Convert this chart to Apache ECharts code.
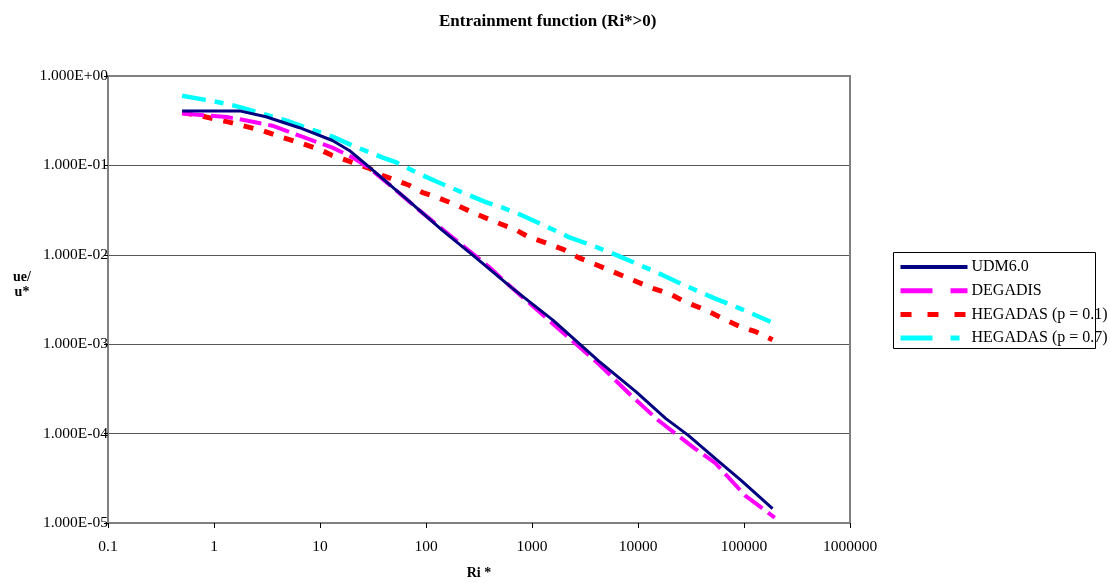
<!DOCTYPE html>
<html>
<head>
<meta charset="utf-8">
<script src="https://cdn.jsdelivr.net/npm/echarts@6/dist/echarts.min.js"></script>
<style>html,body{margin:0;padding:0;background:#fff;}#c{width:1110px;height:583px;}</style>
</head>
<body>
<div id="c"></div>
<script>
// ---- data ----
const seriesNames = ['UDM6.0', 'DEGADIS', 'HEGADAS (p = 0.1)', 'HEGADAS (p = 0.7)'];

const udmX = [0.5, 1.74, 3.09, 6.4, 13.1, 18.9, 29.2, 52.5, 64.6, 141, 295, 646, 1585, 4266, 9550, 18200, 29850, 53700, 93300, 186000];
const udmY = [0.407, 0.407, 0.35, 0.264, 0.19, 0.147, 0.0955, 0.0525, 0.0427, 0.019, 0.0093, 0.00427, 0.00185, 0.000646, 0.000295, 0.000148, 0.0000955, 0.0000525, 0.0000302, 0.0000145];

const degX = [0.5, 1.32, 1.86, 3.55, 6.4, 13.1, 20.2, 29.2, 47.9, 86, 176, 389, 646, 4266, 8710, 15500, 34700, 53700, 102000, 195000];
const degY = [0.38, 0.347, 0.324, 0.278, 0.215, 0.158, 0.123, 0.093, 0.0575, 0.0316, 0.0158, 0.0074, 0.00427, 0.0006, 0.000263, 0.000141, 0.0000676, 0.0000468, 0.0000204, 0.0000115];

const heg1X = [0.5, 0.735, 1.32, 2.03, 2.88, 4.15, 6.4, 9.86, 13.1, 20.2, 29.2, 38.6, 69.3, 91.8, 133, 205, 283, 409, 508, 705, 933, 1350, 2000, 2750, 3980, 5250, 13400, 20200, 28200, 40000, 51300, 67600, 91200, 129000, 186000];
const heg1Y = [0.389, 0.36, 0.309, 0.271, 0.245, 0.21, 0.18, 0.151, 0.129, 0.108, 0.0927, 0.0776, 0.06, 0.05, 0.043, 0.035, 0.0293, 0.0245, 0.0221, 0.019, 0.0158, 0.0136, 0.0114, 0.0093, 0.0078, 0.0068, 0.00427, 0.00363, 0.00295, 0.00251, 0.00219, 0.00186, 0.00158, 0.00138, 0.00112];

const heg7X = [0.5, 0.735, 1.32, 1.86, 2.69, 4.83, 7.41, 13.1, 20.2, 38.6, 52.5, 80.7, 124, 219, 367, 520, 752, 1160, 2220, 3980, 5620, 14600, 24000, 37200, 53700, 75900, 110000, 178000];
const heg7Y = [0.6, 0.555, 0.489, 0.44, 0.388, 0.316, 0.264, 0.21, 0.167, 0.123, 0.108, 0.0836, 0.0664, 0.05, 0.0389, 0.0339, 0.0286, 0.0227, 0.0158, 0.0123, 0.0105, 0.00646, 0.0049, 0.0039, 0.00324, 0.00275, 0.00229, 0.00178];

const xTickLabels = ['0.1', '1', '10', '100', '1000', '10000', '100000', '1000000'];
const yTickLabels = ['1.000E-05', '1.000E-04', '1.000E-03', '1.000E-02', '1.000E-01', '1.000E+00'];

// ---- chart ----
const FONT = "'Liberation Serif', 'Times New Roman', serif";
const pairs = (xs, ys) => xs.map((x, i) => [x, ys[i]]);
const colors = ['#000080', '#FF00FF', '#FF0000', '#00FFFF'];

const chart = echarts.init(document.getElementById('c'), null, {renderer: 'canvas'});
const axisGray = '#808080';
const hide = {opacity: 0};

chart.setOption({
  animation: false,
  backgroundColor: '#fff',
  textStyle: {fontFamily: FONT, color: '#000'},
  title: {
    text: 'Entrainment function (Ri*>0)',
    left: 434, top: 8,
    textStyle: {fontFamily: FONT, fontSize: 17, fontWeight: 'bold', color: '#000'}
  },
  graphic: [{
    type: 'rect', z: 100,
    shape: {x: 893.5, y: 252.5, width: 202, height: 96},
    style: {fill: 'none', stroke: '#000', lineWidth: 1}
  }],
  grid: {left: 108, right: 260, top: 76, bottom: 60, containLabel: false, outerBoundsMode: 'none'},
  legend: {
    orient: 'vertical',
    left: 893, top: 252,
    padding: [7, 5, 3, 5],
    borderWidth: 0,
    itemWidth: 67, itemHeight: 14, itemGap: 7.7,
    textStyle: {fontFamily: FONT, fontSize: 16, color: '#000', lineHeight: 16, padding: [0,0,0,-1]},
    data: [
      {name: seriesNames[0], itemStyle: hide, lineStyle: {width: 4, type: 'solid', color: colors[0]}},
      {name: seriesNames[1], itemStyle: hide, lineStyle: {width: 5, type: [32, 18], color: colors[1]}},
      {name: seriesNames[2], itemStyle: hide, lineStyle: {width: 5, type: [11, 16], color: colors[2]}},
      {name: seriesNames[3], itemStyle: hide, lineStyle: {width: 5, type: [32, 18, 9, 18], color: colors[3]}}
    ]
  },
  xAxis: [{
    type: 'log', logBase: 10, min: 0.1, max: 1000000,
    name: 'Ri *', nameLocation: 'middle', nameGap: 43,
    nameTextStyle: {fontFamily: FONT, fontSize: 14, fontWeight: 'bold', color: '#000'},
    axisLine: {show: true, onZero: false, lineStyle: {color: axisGray, width: 2}},
    axisTick: {show: true, inside: false, length: 5, lineStyle: {color: '#000', width: 1}},
    minorTick: {show: false},
    axisLabel: {
      fontFamily: FONT, fontSize: 15.5, color: '#000', margin: 16,
      formatter: v => xTickLabels[Math.round(Math.log10(v)) + 1]
    },
    splitLine: {show: false}
  }, {
    type: 'log', logBase: 10, min: 0.1, max: 1000000, position: 'top',
    axisLine: {show: true, onZero: false, lineStyle: {color: axisGray, width: 2}},
    axisTick: {show: false}, axisLabel: {show: false}, splitLine: {show: false}
  }],
  yAxis: [{
    type: 'log', logBase: 10, min: 0.00001, max: 1,
    name: 'ue/\nu*', nameLocation: 'middle', nameRotate: 0, nameGap: 86,
    nameTextStyle: {fontFamily: FONT, fontSize: 14, fontWeight: 'bold', color: '#000', align: 'center', verticalAlign: 'bottom', lineHeight: 15},
    axisLine: {show: true, onZero: false, lineStyle: {color: axisGray, width: 2}},
    axisTick: {show: true, inside: false, length: 4, lineStyle: {color: '#000', width: 1}},
    axisLabel: {
      fontFamily: FONT, fontSize: 15.5, color: '#000', margin: 0,
      formatter: v => yTickLabels[Math.round(Math.log10(v)) + 5]
    },
    splitLine: {show: true, lineStyle: {color: '#555', width: 1.2}}
  }, {
    type: 'log', logBase: 10, min: 0.00001, max: 1, position: 'right',
    axisLine: {show: true, onZero: false, lineStyle: {color: axisGray, width: 2}},
    axisTick: {show: false}, axisLabel: {show: false}, splitLine: {show: false}
  }],
  series: [
    {name: seriesNames[0], type: 'line', data: pairs(udmX, udmY), showSymbol: false, symbol: 'none',
     lineStyle: {color: colors[0], width: 3, type: 'solid'}, itemStyle: {color: colors[0]}, z: 5},
    {name: seriesNames[1], type: 'line', data: pairs(degX, degY), showSymbol: false, symbol: 'none',
     lineStyle: {color: colors[1], width: 4, type: [22, 7]}, itemStyle: {color: colors[1]}, z: 4},
    {name: seriesNames[2], type: 'line', data: pairs(heg1X, heg1Y), showSymbol: false, symbol: 'none',
     lineStyle: {color: colors[2], width: 5, type: [10, 11]}, itemStyle: {color: colors[2]}, z: 3},
    {name: seriesNames[3], type: 'line', data: pairs(heg7X, heg7Y), showSymbol: false, symbol: 'none',
     lineStyle: {color: colors[3], width: 4.5, type: [24, 9, 9, 9]}, itemStyle: {color: colors[3]}, z: 2}
  ]
});
</script>
</body>
</html>
